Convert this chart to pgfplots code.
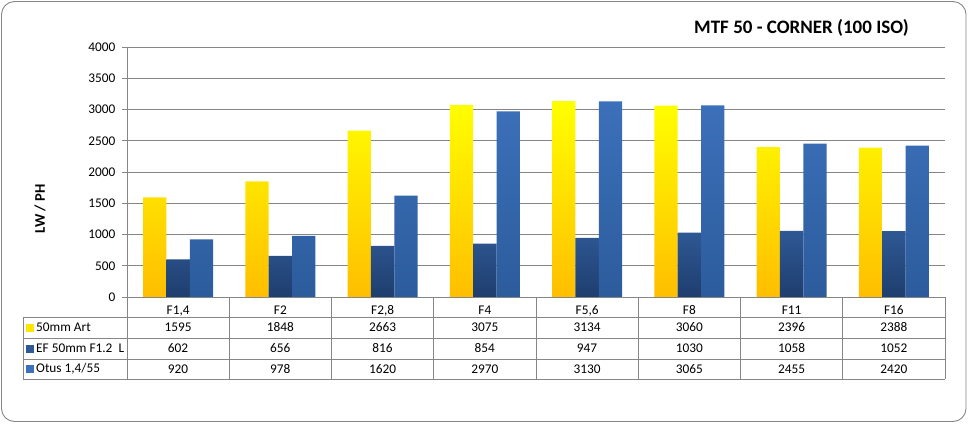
\documentclass[border=0pt]{standalone}
\usepackage{pgfplots}
\pgfplotsset{compat=1.18}
\usepackage{pgfplotstable}
\usepackage{fontspec}
\setmainfont{Carlito}
\definecolor{gridc}{RGB}{134,134,134}
\definecolor{artT}{RGB}{255,255,0}
\definecolor{artB}{RGB}{255,190,0}
\definecolor{efT}{RGB}{47,88,148}
\definecolor{efB}{RGB}{30,62,110}
\definecolor{otT}{RGB}{60,112,186}
\definecolor{otB}{RGB}{44,92,156}
\pgfplotstableread{
x art ef otus
0 1595 602 920
1 1848 656 978
2 2663 816 1620
3 3075 854 2970
4 3134 947 3130
5 3060 1030 3065
6 2396 1058 2455
7 2388 1052 2420
}\mtfdata
\begin{document}
\fontsize{13.3}{16}\selectfont
\begin{tikzpicture}[x=1pt,y=1pt]
\useasboundingbox (0,0) rectangle (968,423);
\draw[gridc, line width=0.9pt, rounded corners=13pt] (1.5,1.5) rectangle (966,421.5);
\begin{axis}[
  at={(127pt,126pt)}, anchor=south west,
  scale only axis, width=818pt, height=250pt,
  xmin=-0.5, xmax=7.5, ymin=0, ymax=4000,
  ytick={0,500,...,4000},
  xtick={0,...,7},
  xticklabels={F1{,}4,F2,F2{,}8,F4,F5{,}6,F8,F11,F16},
  xticklabel style={font=\fontsize{13.3}{16}\selectfont, yshift=1pt},
  yticklabel style={font=\fontsize{13.3}{16}\selectfont, xshift=-2pt},
  /pgf/number format/assume math mode=true,
  /pgf/number format/1000 sep={},
  ymajorgrids, grid style={gridc, line width=0.7pt},
  axis line style={gridc, line width=0.7pt},
  axis x line*=bottom, axis y line*=left,
  x axis line style={-}, y axis line style={-},
  ytick style={gridc, line width=0.7pt},
  major tick length=5pt,
  xtick style={draw=none},
  tick align=outside,
  ybar=0pt, bar width=23.3pt,
  clip=false,
]
\addplot[draw=none, top color=artT, bottom color=artB] table[x=x,y=art]{\mtfdata};
\addplot[draw=none, top color=efT, bottom color=efB] table[x=x,y=ef]{\mtfdata};
\addplot[draw=none, top color=otT, bottom color=otB] table[x=x,y=otus]{\mtfdata};
\end{axis}
% data table
\begin{scope}[gridc, line width=0.7pt]
\foreach \k in {0,...,8} { \draw (127+102.25*\k,126) -- (127+102.25*\k,44); }
\foreach \yy in {106,85,64,44} { \draw (23,\yy) -- (945,\yy); }
\draw (23,106) -- (23,44);
\end{scope}
\fill[artB!40!artT] (26,91.5) rectangle (34,99.5);
\fill[efT] (26,70.5) rectangle (34,78.5);
\fill[otT] (26,50) rectangle (34,58);
\node[anchor=west, inner sep=0] at (36,95.5) {50mm Art};
\node[anchor=west, inner sep=0] at (36,74.5) {EF 50mm F1.2\ \ L};
\node[anchor=west, inner sep=0] at (36,54) {Otus 1,4/55};
\foreach \v [count=\i from 0] in {1595,1848,2663,3075,3134,3060,2396,2388}
  \node at (127+102.25*\i+51.1,95.5) {\v};
\foreach \v [count=\i from 0] in {602,656,816,854,947,1030,1058,1052}
  \node at (127+102.25*\i+51.1,74.5) {\v};
\foreach \v [count=\i from 0] in {920,978,1620,2970,3130,3065,2455,2420}
  \node at (127+102.25*\i+51.1,54) {\v};
\node[font=\fontsize{19}{22}\selectfont\bfseries] at (801.5,395) {MTF 50 - CORNER (100 ISO)};
\node[font=\fontsize{14.7}{17}\selectfont\bfseries, rotate=90] at (40,214) {LW / PH};
\end{tikzpicture}
\end{document}
